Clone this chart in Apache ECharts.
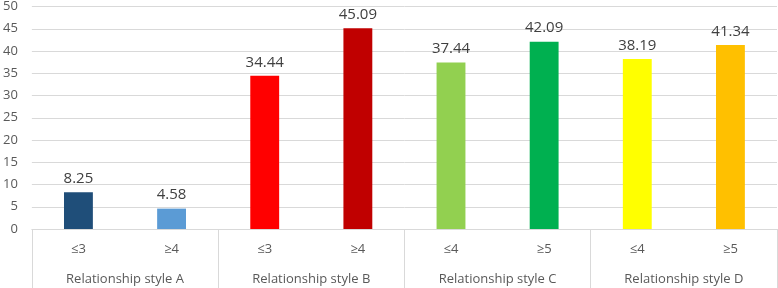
<!DOCTYPE html>
<html>
<head>
<meta charset="utf-8">
<script src="https://cdn.jsdelivr.net/npm/echarts@6/dist/echarts.min.js"></script>
<style>
  html, body { margin: 0; padding: 0; background: #fff; }
  #chart { width: 778px; height: 288px; }
</style>
</head>
<body>
<div id="chart"></div>
<script>
var categories = ['≤3', '≥4', '≤3', '≥4', '≤4', '≥5', '≤4', '≥5'];
var groups = ['Relationship style A', 'Relationship style B', 'Relationship style C', 'Relationship style D'];
var values = [8.25, 4.58, 34.44, 45.09, 37.44, 42.09, 38.19, 41.34];
var colors = ['#1F4E79', '#5B9BD5', '#FF0000', '#C00000', '#92D050', '#00B050', '#FFFF00', '#FFC000'];

var chart = echarts.init(document.getElementById('chart'));
var font = '"Open Sans", "Liberation Sans", sans-serif';

var barData = [];
for (var i = 0; i < values.length; i++) {
  barData.push({ value: values[i], itemStyle: { color: colors[i] } });
}

chart.setOption({
  animation: false,
  grid: { left: 29, right: 1, top: 5, bottom: 59, containLabel: false },
  xAxis: [{
    type: 'category',
    data: categories,
    axisLine: { lineStyle: { color: '#d9d9d9', width: 1 } },
    axisTick: { show: false },
    axisLabel: { color: '#595959', fontSize: 13, fontFamily: font, margin: 14 }
  }, {
    type: 'category',
    data: groups,
    position: 'bottom',
    axisLine: { show: false },
    axisTick: { show: true, length: 60, lineStyle: { color: '#d9d9d9' } },
    axisLabel: { color: '#595959', fontSize: 13, fontFamily: font, margin: 44 }
  }],
  yAxis: {
    type: 'value',
    min: 0,
    max: 50,
    interval: 5,
    axisLine: { show: false },
    axisTick: { show: false },
    splitLine: { lineStyle: { color: '#d9d9d9' } },
    axisLabel: { color: '#595959', fontSize: 13, fontFamily: font, margin: 14 }
  },
  series: [{
    type: 'bar',
    xAxisIndex: 0,
    data: barData,
    barWidth: '31%',
    label: {
      show: true,
      position: 'top',
      distance: 6,
      color: '#404040',
      fontSize: 15,
      fontFamily: font
    }
  }]
});
</script>
</body>
</html>
